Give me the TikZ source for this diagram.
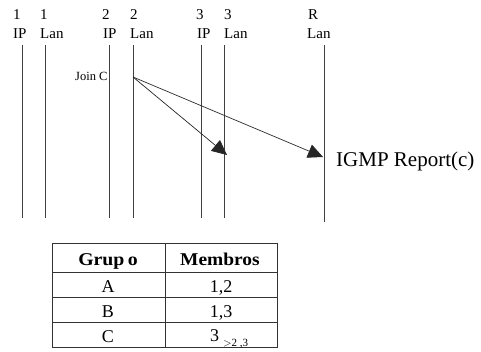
\documentclass[tikz,border=0pt]{standalone}
\usepackage{fontspec}
\setmainfont{Liberation Serif}
\usetikzlibrary{arrows.meta}
\begin{document}
\begin{tikzpicture}[x=1pt,y=-1pt,
  lifeline/.style={draw=black!75,line width=0.9pt},
  lbl/.style={anchor=base west,inner sep=0pt,font=\fontsize{15}{15}\selectfont},
  msg/.style={draw=black!85,line width=0.7pt,-{Triangle[length=15pt,width=14pt]}},
  cell/.style={inner sep=0pt,font=\fontsize{18}{18}\selectfont},
  grid/.style={draw=black!80,line width=0.8pt}]
\useasboundingbox (0,0) rectangle (481,351);
% lifeline labels
\node[lbl] (n1) at (13,19) {1};   \node[lbl] (l1) at (13,38) {IP};
\node[lbl] (n2) at (40,19) {1};   \node[lbl] (l2) at (40,38) {Lan};
\node[lbl] (n3) at (102,19) {2};  \node[lbl] (l3) at (103,38) {IP};
\node[lbl] (n4) at (130,19) {2};  \node[lbl] (l4) at (130,38) {Lan};
\node[lbl] (n5) at (196,19) {3};  \node[lbl] (l5) at (197,38) {IP};
\node[lbl] (n6) at (224,19) {3};  \node[lbl] (l6) at (224,38) {Lan};
\node[lbl] (n7) at (308,19) {R};  \node[lbl] (l7) at (307,38) {Lan};
% lifelines
\foreach \i/\x/\b in {1/22/218,2/45/218,3/109/218,4/133/218,5/201/218,6/224/218,7/324/222}{
  \coordinate (t\i) at (\x,45);
  \coordinate (b\i) at (\x,\b);
  \draw[lifeline] (t\i) -- (b\i);
}
% messages
\node[anchor=base west,inner sep=0pt,font=\fontsize{12.5}{12.5}\selectfont] (join) at (75,80) {Join C};
\coordinate (src) at (133,77);
\coordinate (dst1) at (227,155);
\coordinate (dst2) at (323,157);
\draw[msg] (src) -- (dst1);
\draw[msg] (src) -- (dst2);
\node[anchor=base west,inner sep=0pt,font=\fontsize{21}{21}\selectfont] (igmp) at (336,166) {IGMP Report(c)};
% table
\coordinate (tl) at (52,243); \coordinate (tr) at (277,243);
\coordinate (bl) at (52,347); \coordinate (br) at (277,347);
\coordinate (mt) at (165,243); \coordinate (mb) at (165,347);
\coordinate (r1l) at (52,272); \coordinate (r1r) at (277,272);
\coordinate (r2l) at (52,297); \coordinate (r2r) at (277,297);
\coordinate (r3l) at (52,322); \coordinate (r3r) at (277,322);
\draw[grid] (tl) -- (tr) -- (br) -- (bl) -- cycle;
\draw[grid] (mt) -- (mb);
\draw[grid] (r1l) -- (r1r);
\draw[grid] (r2l) -- (r2r);
\draw[grid] (r3l) -- (r3r);
\node[cell,anchor=base] (hg) at (108,265) {\scalebox{1.1}[1]{\bfseries Grup\,o}};
\node[cell,anchor=base] (hm) at (220,265) {\scalebox{1.08}[1]{\bfseries Membros}};
\node[cell,anchor=base] (ca) at (108,292) {A};
\node[cell,anchor=base] (cb) at (108,317) {B};
\node[cell,anchor=base] (cc) at (108,342) {C};
\node[cell,anchor=base] (ma) at (221,292) {1,2};
\node[cell,anchor=base] (mb1) at (221,317) {1,3};
\node[cell,anchor=base west] (mc) at (210,341) {3};
\node[anchor=base west,inner sep=0pt,font=\fontsize{11}{11}\selectfont] (mcs) at (223,346) {$>$2 ,3};
\end{tikzpicture}
\end{document}
